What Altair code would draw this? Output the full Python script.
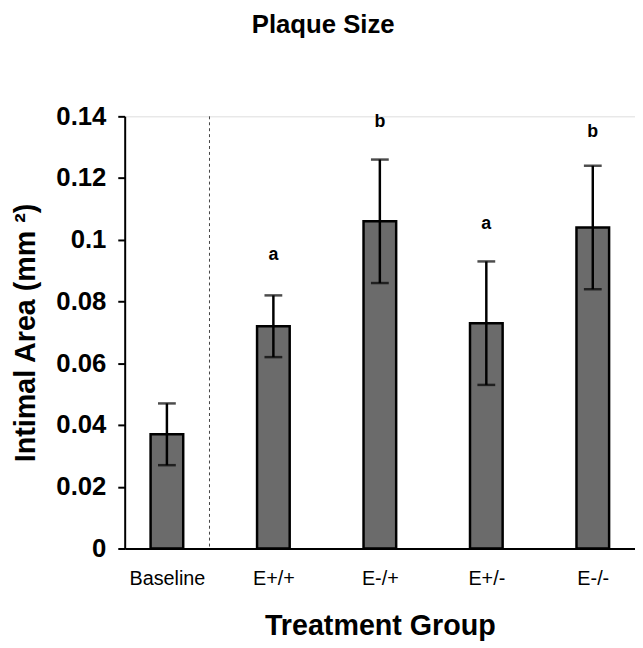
import altair as alt
import pandas as pd

groups = ["Baseline", "E+/+", "E-/+", "E+/-", "E-/-"]
means = [0.037, 0.072, 0.106, 0.073, 0.104]
errors = [0.010, 0.010, 0.020, 0.020, 0.020]
letters = ["", "a", "b", "a", "b"]
letter_y = [None, 0.095, 0.138, 0.105, 0.135]
divider = [0.4]
y_ticks = [0, 0.02, 0.04, 0.06, 0.08, 0.1, 0.12, 0.14]

df = pd.DataFrame({
    "idx": list(range(len(groups))),
    "group": groups,
    "mean": means,
    "lo": [m - e for m, e in zip(means, errors)],
    "hi": [m + e for m, e in zip(means, errors)],
})
df_letters = pd.DataFrame({
    "idx": [i for i, l in enumerate(letters) if l],
    "letter": [l for l in letters if l],
    "ly": [letter_y[i] for i, l in enumerate(letters) if l],
})
df_div = pd.DataFrame({"xd": divider})

W, H = 516, 437
FONT = "Liberation Sans, Arial, sans-serif"

label_expr = "[" + ",".join("'" + g + "'" for g in groups) + "][datum.value]"

x_scale = alt.Scale(domain=[-0.35, 4.35], nice=False, zero=False)
y_scale = alt.Scale(domain=[0, 0.14], nice=False)

x_enc = alt.X("idx:Q", scale=x_scale,
              axis=alt.Axis(values=list(range(len(groups))), labelExpr=label_expr,
                            title="Treatment Group", grid=False, ticks=False,
                            domainColor="black", domainWidth=2,
                            labelFont=FONT, labelFontSize=20, labelColor="black",
                            labelPadding=20, titleFont=FONT, titleFontSize=29,
                            titleFontWeight="bold", titleColor="black", titlePadding=24))
y_enc = alt.Y("mean:Q", scale=y_scale,
              axis=alt.Axis(values=y_ticks, format="~g", title="Intimal Area (mm ²)",
                            grid=False, tickColor="black", tickWidth=2, tickSize=7,
                            domainColor="black", domainWidth=2,
                            labelFont=FONT, labelFontSize=26, labelFontWeight="bold",
                            labelColor="black", labelPadding=12,
                            titleFont=FONT, titleFontSize=29, titleFontWeight="bold",
                            titleColor="black", titlePadding=16))

bars = alt.Chart(df).mark_bar(size=33, color="#6b6b6b", stroke="black",
                              strokeWidth=2.5).encode(x=x_enc, y=y_enc)

err = alt.Chart(df).mark_rule(color="black", strokeWidth=2.5).encode(
    x=alt.X("idx:Q", scale=x_scale), y=alt.Y("lo:Q", scale=y_scale), y2="hi:Q")

cap_hi = alt.Chart(df).mark_tick(orient="horizontal", color="black", thickness=2.5,
                                 size=18).encode(
    x=alt.X("idx:Q", scale=x_scale), y=alt.Y("hi:Q", scale=y_scale))
cap_lo = alt.Chart(df).mark_tick(orient="horizontal", color="black", thickness=2.5,
                                 size=18).encode(
    x=alt.X("idx:Q", scale=x_scale), y=alt.Y("lo:Q", scale=y_scale))

txt = alt.Chart(df_letters).mark_text(font=FONT, fontSize=18, fontWeight="bold",
                                      color="black").encode(
    x=alt.X("idx:Q", scale=x_scale), y=alt.Y("ly:Q", scale=y_scale), text="letter:N")

div = alt.Chart(df_div).mark_rule(color="#444444", strokeWidth=1,
                                  strokeDash=[3, 3]).encode(
    x=alt.X("xd:Q", scale=x_scale), y=alt.value(0), y2=alt.value(H))

chart = alt.layer(bars, div, err, cap_hi, cap_lo, txt).properties(
    width=W, height=H,
    title=alt.TitleParams("Plaque Size", font=FONT, fontSize=26, fontWeight="bold",
                          color="black", anchor="middle", frame="bounds", offset=66),
    padding={"left": 3, "top": 1, "right": 0, "bottom": 0},
).configure_view(stroke=None).configure(background="white")

chart.save("out.html", embed_options={"renderer": "svg", "actions": False})
